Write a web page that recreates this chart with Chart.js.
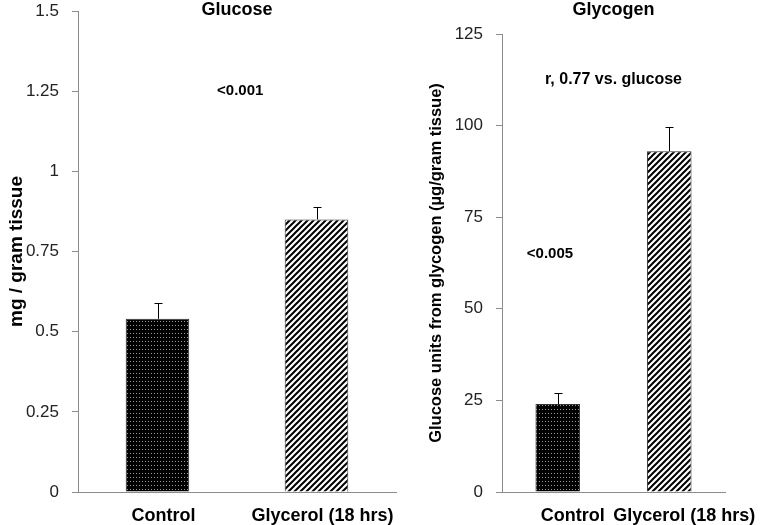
<!DOCTYPE html>
<html lang="en">
<head>
  <meta charset="UTF-8" />
  <title>Glucose and glycogen</title>
  <script src="https://cdn.jsdelivr.net/npm/chart.js"></script>
  <style>
    body { margin: 0; background: #fff; }
    #wrap { position: relative; width: 765px; height: 525px; }
    #left { position: absolute; left: 0; top: 0; }
    #right { position: absolute; left: 400px; top: 0; }
  </style>
</head>
<body>
<div id="wrap">
  <canvas id="left" width="400" height="525"></canvas>
  <canvas id="right" width="365" height="525"></canvas>
</div>
<script>
  // data
  const categories = ['Control', 'Glycerol (18 hrs)'];
  const glucoseMeans = [0.54, 0.85];
  const glucoseErr = [0.05, 0.04];
  const glucoseTicks = ['0', '0.25', '0.5', '0.75', '1', '1.25', '1.5'];
  const glycogenMeans = [24, 93];
  const glycogenErr = [3, 6.5];
  const glycogenTicks = ['0', '25', '50', '75', '100', '125'];

  const FONT = '"Liberation Sans", Arial, sans-serif';

  // fill patterns: dotted black for control, diagonal hatch for glycerol
  function dotPattern() {
    const c = document.createElement('canvas');
    c.width = 3; c.height = 4;
    const g = c.getContext('2d');
    g.fillStyle = '#000';
    g.fillRect(0, 0, 3, 4);
    g.fillStyle = '#9a9a9a';
    g.fillRect(1, 1, 1, 1);
    return g.createPattern(c, 'repeat');
  }
  function hatchPattern() {
    const c = document.createElement('canvas');
    c.width = 6; c.height = 6;
    const g = c.getContext('2d');
    g.fillStyle = '#fff';
    g.fillRect(0, 0, 6, 6);
    g.strokeStyle = '#000';
    g.lineWidth = 2;
    g.beginPath();
    g.moveTo(-1, 7); g.lineTo(7, -1);
    g.moveTo(-1, 1); g.lineTo(1, -1);
    g.moveTo(5, 7); g.lineTo(7, 5);
    g.stroke();
    return g.createPattern(c, 'repeat');
  }
  const fills = [dotPattern(), hatchPattern()];

  // upward error bars plus panel title and notes
  const extras = {
    id: 'extras',
    afterDatasetsDraw(chart, args, opts) {
      const ctx = chart.ctx;
      const x = chart.scales.x, y = chart.scales.y;
      const meta = chart.getDatasetMeta(0);
      ctx.save();
      ctx.strokeStyle = '#000';
      ctx.lineWidth = 1;
      opts.errors.forEach((e, i) => {
        const bar = meta.data[i];
        const px = Math.round(bar.x) + 0.5;
        const top = Math.round(y.getPixelForValue(opts.means[i] + e)) + 0.5;
        ctx.beginPath();
        ctx.moveTo(px, bar.y);
        ctx.lineTo(px, top);
        ctx.moveTo(px - 4, top);
        ctx.lineTo(px + 4, top);
        ctx.stroke();
      });
      ctx.fillStyle = '#000';
      ctx.textAlign = 'center';
      ctx.textBaseline = 'middle';
      ctx.font = 'bold 18px ' + FONT;
      const ca = chart.chartArea;
      ctx.fillText(opts.title, (ca.left + ca.right) / 2, 10);
      opts.notes.forEach(n => {
        ctx.font = 'bold ' + n.size + 'px ' + FONT;
        ctx.fillText(n.text, x.getPixelForValue(n.x), y.getPixelForValue(n.y));
      });
      ctx.restore();
    }
  };

  function makeChart(id, means, errors, ticks, max, step, yTitle, titleSize, title, notes, pad, axisW, shift) {
    return new Chart(document.getElementById(id), {
      type: 'bar',
      data: {
        labels: categories,
        datasets: [{
          data: means,
          backgroundColor: fills,
          borderColor: '#333',
          borderWidth: 1,
          categoryPercentage: 1,
          barPercentage: 0.4
        }]
      },
      options: {
        responsive: false,
        animation: false,
        layout: { padding: pad },
        plugins: {
          legend: { display: false },
          tooltip: { enabled: false },
          extras: { means: means, errors: errors, title: title, notes: notes }
        },
        scales: {
          x: {
            grid: { display: false, drawTicks: false },
            border: { color: '#8c8c8c', width: 1 },
            ticks: {
              color: '#000',
              padding: 13,
              maxRotation: 0,
              minRotation: 0,
              autoSkip: false,
              labelOffset: shift,
              font: { family: FONT, size: 18, weight: 'bold' }
            },
            afterFit(s) {
              s.height = 33;
              s.paddingLeft = 0; s.paddingRight = 0;
            }
          },
          y: {
            min: 0,
            max: max,
            grid: { drawOnChartArea: false, tickLength: 6, color: '#8c8c8c' },
            border: { color: '#8c8c8c', width: 1 },
            ticks: {
              stepSize: step,
              color: '#222',
              padding: 13,
              font: { family: FONT, size: 17 },
              callback: (v, i) => ticks[i]
            },
            title: {
              display: true,
              text: yTitle,
              color: '#000',
              padding: 0,
              font: { family: FONT, size: titleSize, weight: 'bold' }
            },
            afterFit(s) {
              s.width = axisW;
              s.paddingTop = 0; s.paddingBottom = 0;
            }
          }
        }
      },
      plugins: [extras]
    });
  }

  makeChart('left', glucoseMeans, glucoseErr, glucoseTicks, 1.5, 0.25,
    'mg / gram tissue', 19, 'Glucose',
    [{ text: '<0.001', x: 0.52, y: 1.25, size: 15 }],
    { top: 11, right: 4, left: 5, bottom: 0 }, 73, 6);

  makeChart('right', glycogenMeans, glycogenErr, glycogenTicks, 125, 25,
    'Glucose units from glycogen (\u00b5g/gram tissue)', 16.5, 'Glycogen',
    [{ text: 'r, 0.77 vs. glucose', x: 0.5, y: 112.5, size: 16 },
     { text: '<0.005', x: -0.07, y: 65, size: 15 }],
    { top: 34, right: 40, left: 27, bottom: 0 }, 75, 15);
</script>
</body>
</html>
